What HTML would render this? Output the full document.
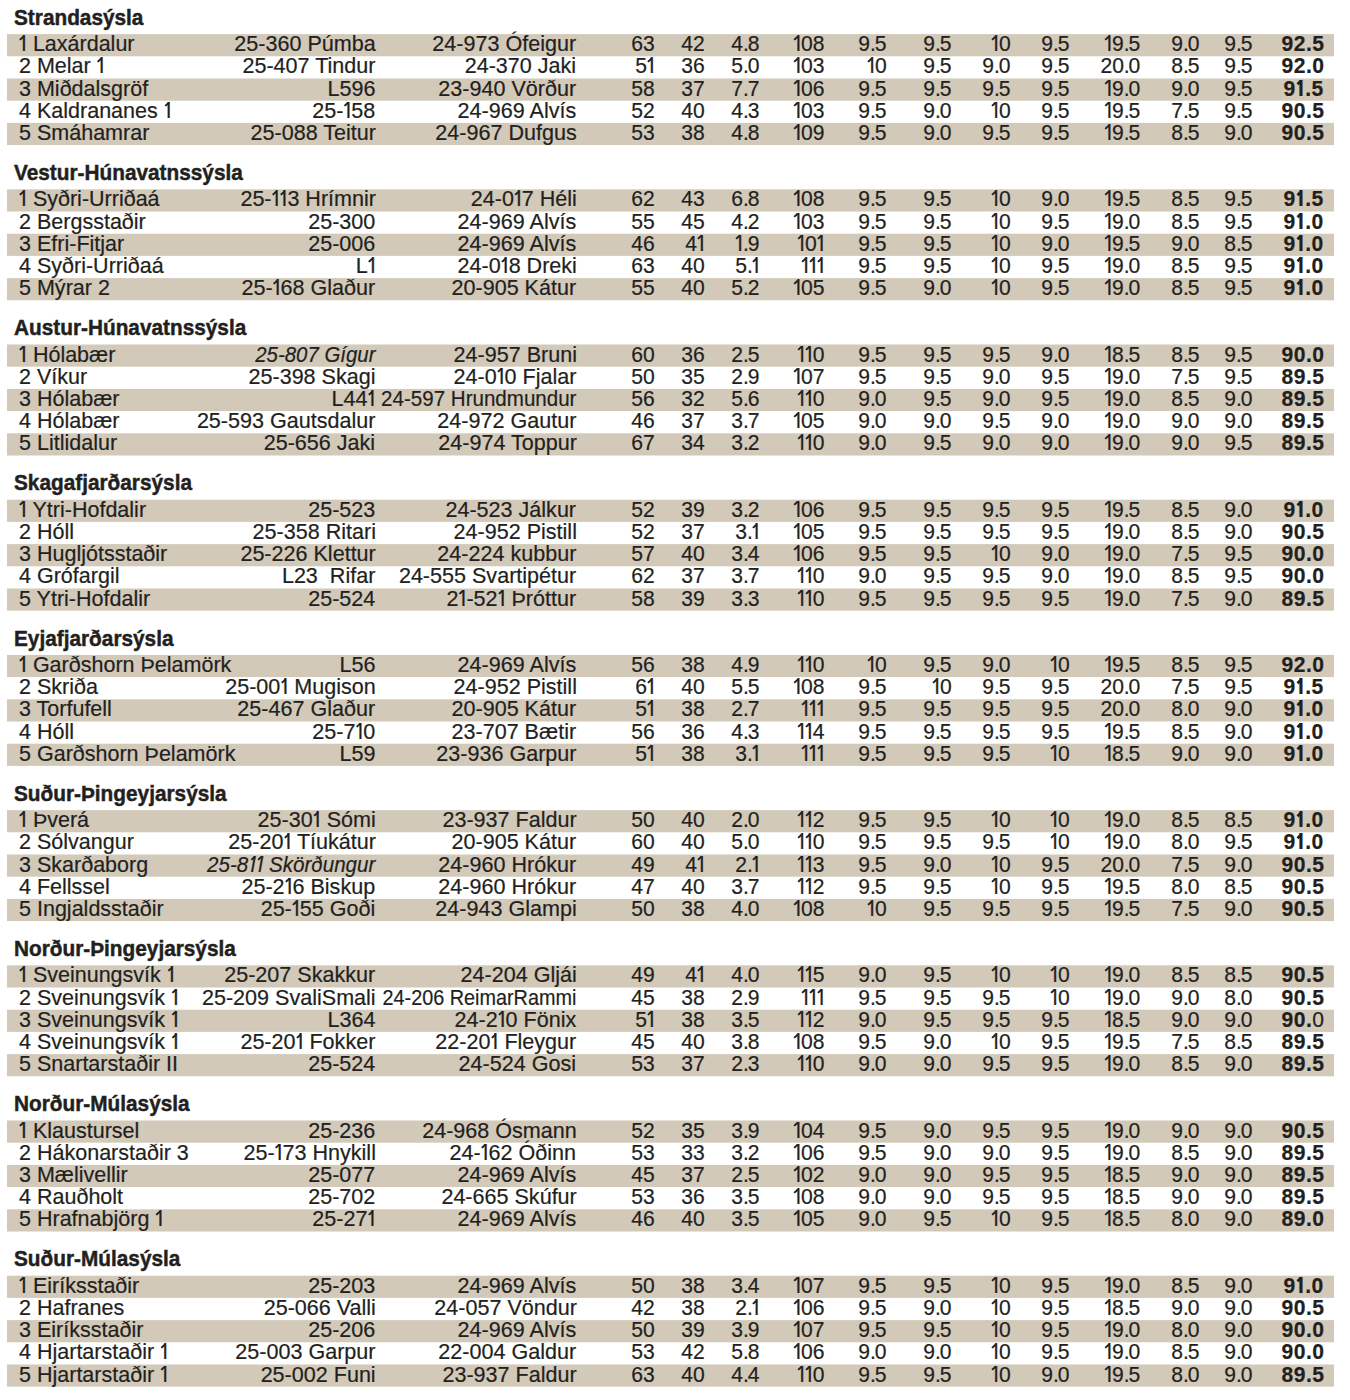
<!DOCTYPE html>
<html><head><meta charset="utf-8"><style>
html,body{margin:0;padding:0;background:#fff;}
body{width:1350px;height:1400px;overflow:hidden;position:relative;font-family:"Liberation Sans",sans-serif;color:#231f20;}
.h{position:absolute;left:14px;font-weight:bold;font-size:21px;line-height:24px;white-space:nowrap;letter-spacing:0px;transform:scale(0.99,1.05);transform-origin:0 20px;-webkit-text-stroke:0.45px #231f20;}
.b{position:absolute;left:7px;width:1327px;}
.s{background:rgb(210,201,185);}
.t{position:absolute;white-space:nowrap;font-size:21.3px;line-height:24px;letter-spacing:0px;transform:scale(0.99,1);transform-origin:0 19px;-webkit-text-stroke:0.2px #231f20;}
.r{text-align:right;transform-origin:100% 19px;}
.k{font-weight:bold;letter-spacing:0.5px;}
.n{font-weight:normal;}
i{font-style:italic;}
.p{letter-spacing:-1.2px;}
.o{position:relative;padding-left:2.6px;letter-spacing:0.5px;}
.o::after{content:"";position:absolute;left:-0.6px;top:3.7px;width:4.7px;height:2.0px;background:currentColor;transform:rotate(-42deg);transform-origin:100% 0;}
.k .o{padding-left:2.4px;letter-spacing:1.4px;}
.k .o::after{height:2.7px;left:-0.8px;top:3.6px;}
i .o::after{left:0.9px;}
</style></head><body>

<svg width="1350" height="1400" style="position:absolute;left:0;top:0" fill="rgb(210,201,185)"><rect x="7" y="34.10" width="1327" height="22.20"/><rect x="7" y="78.50" width="1327" height="22.20"/><rect x="7" y="122.90" width="1327" height="22.20"/><rect x="7" y="189.30" width="1327" height="22.20"/><rect x="7" y="233.70" width="1327" height="22.20"/><rect x="7" y="278.10" width="1327" height="22.20"/><rect x="7" y="344.50" width="1327" height="22.20"/><rect x="7" y="388.90" width="1327" height="22.20"/><rect x="7" y="433.30" width="1327" height="22.20"/><rect x="7" y="499.70" width="1327" height="22.20"/><rect x="7" y="544.10" width="1327" height="22.20"/><rect x="7" y="588.50" width="1327" height="22.20"/><rect x="7" y="654.90" width="1327" height="22.20"/><rect x="7" y="699.30" width="1327" height="22.20"/><rect x="7" y="743.70" width="1327" height="22.20"/><rect x="7" y="810.10" width="1327" height="22.20"/><rect x="7" y="854.50" width="1327" height="22.20"/><rect x="7" y="898.90" width="1327" height="22.20"/><rect x="7" y="965.30" width="1327" height="22.20"/><rect x="7" y="1009.70" width="1327" height="22.20"/><rect x="7" y="1054.10" width="1327" height="22.20"/><rect x="7" y="1120.50" width="1327" height="22.20"/><rect x="7" y="1164.90" width="1327" height="22.20"/><rect x="7" y="1209.30" width="1327" height="22.20"/><rect x="7" y="1275.70" width="1327" height="22.20"/><rect x="7" y="1320.10" width="1327" height="22.20"/><rect x="7" y="1364.50" width="1327" height="22.20"/></svg>
<div class="h" style="top:5.80px">Strandasýsla</div>
<div class="b" style="top:34.10px;height:22.20px">
<div class="t" style="left:12.00px;top:-2.00px;transform:scale(1.01,1)"><span class=o>l</span> Laxárdalur</div>
<div class="t r" style="right:958.50px;top:-2.00px;transform:scale(1.012,1)">25-360 Púmba</div>
<div class="t r" style="right:757.50px;top:-2.00px;transform:scale(1.012,1)">24-973 Ófeigur</div>
<div class="t r" style="right:679.50px;top:-2.00px">63</div>
<div class="t r" style="right:629.70px;top:-2.00px">42</div>
<div class="t r" style="right:574.30px;top:-2.00px">4<span class=p>.</span>8</div>
<div class="t r" style="right:509.40px;top:-2.00px"><span class=o>l</span>08</div>
<div class="t r" style="right:447.20px;top:-2.00px">9<span class=p>.</span>5</div>
<div class="t r" style="right:382.50px;top:-2.00px">9<span class=p>.</span>5</div>
<div class="t r" style="right:323.40px;top:-2.00px"><span class=o>l</span>0</div>
<div class="t r" style="right:264.10px;top:-2.00px">9<span class=p>.</span>5</div>
<div class="t r" style="right:193.60px;top:-2.00px"><span class=o>l</span>9<span class=p>.</span>5</div>
<div class="t r" style="right:134.20px;top:-2.00px">9<span class=p>.</span>0</div>
<div class="t r" style="right:81.30px;top:-2.00px">9<span class=p>.</span>5</div>
<div class="t r k" style="right:9.90px;top:-2.00px">92.5</div>
</div>
<div class="b" style="top:56.30px;height:22.20px">
<div class="t" style="left:12.00px;top:-2.00px;transform:scale(1.01,1)"><span style="letter-spacing:0px">2</span> Melar <span class=o>l</span></div>
<div class="t r" style="right:958.50px;top:-2.00px;transform:scale(1.012,1)">25-407 Tindur</div>
<div class="t r" style="right:757.50px;top:-2.00px;transform:scale(1.012,1)">24-370 Jaki</div>
<div class="t r" style="right:679.50px;top:-2.00px">5<span class=o>l</span></div>
<div class="t r" style="right:629.70px;top:-2.00px">36</div>
<div class="t r" style="right:574.30px;top:-2.00px">5<span class=p>.</span>0</div>
<div class="t r" style="right:509.40px;top:-2.00px"><span class=o>l</span>03</div>
<div class="t r" style="right:447.20px;top:-2.00px"><span class=o>l</span>0</div>
<div class="t r" style="right:382.50px;top:-2.00px">9<span class=p>.</span>5</div>
<div class="t r" style="right:323.40px;top:-2.00px">9<span class=p>.</span>0</div>
<div class="t r" style="right:264.10px;top:-2.00px">9<span class=p>.</span>5</div>
<div class="t r" style="right:193.60px;top:-2.00px">20<span class=p>.</span>0</div>
<div class="t r" style="right:134.20px;top:-2.00px">8<span class=p>.</span>5</div>
<div class="t r" style="right:81.30px;top:-2.00px">9<span class=p>.</span>5</div>
<div class="t r k" style="right:9.90px;top:-2.00px">92.0</div>
</div>
<div class="b" style="top:78.50px;height:22.20px">
<div class="t" style="left:12.00px;top:-2.00px;transform:scale(1.01,1)"><span style="letter-spacing:0px">3</span> Miðdalsgröf</div>
<div class="t r" style="right:958.50px;top:-2.00px;transform:scale(1.012,1)">L596</div>
<div class="t r" style="right:757.50px;top:-2.00px;transform:scale(1.012,1)">23-940 Vörður</div>
<div class="t r" style="right:679.50px;top:-2.00px">58</div>
<div class="t r" style="right:629.70px;top:-2.00px">37</div>
<div class="t r" style="right:574.30px;top:-2.00px">7<span class=p>.</span>7</div>
<div class="t r" style="right:509.40px;top:-2.00px"><span class=o>l</span>06</div>
<div class="t r" style="right:447.20px;top:-2.00px">9<span class=p>.</span>5</div>
<div class="t r" style="right:382.50px;top:-2.00px">9<span class=p>.</span>5</div>
<div class="t r" style="right:323.40px;top:-2.00px">9<span class=p>.</span>5</div>
<div class="t r" style="right:264.10px;top:-2.00px">9<span class=p>.</span>5</div>
<div class="t r" style="right:193.60px;top:-2.00px"><span class=o>l</span>9<span class=p>.</span>0</div>
<div class="t r" style="right:134.20px;top:-2.00px">9<span class=p>.</span>0</div>
<div class="t r" style="right:81.30px;top:-2.00px">9<span class=p>.</span>5</div>
<div class="t r k" style="right:9.90px;top:-2.00px">9<span class=o>l</span>.5</div>
</div>
<div class="b" style="top:100.70px;height:22.20px">
<div class="t" style="left:12.00px;top:-2.00px;transform:scale(1.01,1)"><span style="letter-spacing:0px">4</span> Kaldrananes <span class=o>l</span></div>
<div class="t r" style="right:958.50px;top:-2.00px;transform:scale(1.012,1)">25-<span class=o>l</span>58</div>
<div class="t r" style="right:757.50px;top:-2.00px;transform:scale(1.012,1)">24-969 Alvís</div>
<div class="t r" style="right:679.50px;top:-2.00px">52</div>
<div class="t r" style="right:629.70px;top:-2.00px">40</div>
<div class="t r" style="right:574.30px;top:-2.00px">4<span class=p>.</span>3</div>
<div class="t r" style="right:509.40px;top:-2.00px"><span class=o>l</span>03</div>
<div class="t r" style="right:447.20px;top:-2.00px">9<span class=p>.</span>5</div>
<div class="t r" style="right:382.50px;top:-2.00px">9<span class=p>.</span>0</div>
<div class="t r" style="right:323.40px;top:-2.00px"><span class=o>l</span>0</div>
<div class="t r" style="right:264.10px;top:-2.00px">9<span class=p>.</span>5</div>
<div class="t r" style="right:193.60px;top:-2.00px"><span class=o>l</span>9<span class=p>.</span>5</div>
<div class="t r" style="right:134.20px;top:-2.00px">7<span class=p>.</span>5</div>
<div class="t r" style="right:81.30px;top:-2.00px">9<span class=p>.</span>5</div>
<div class="t r k" style="right:9.90px;top:-2.00px">90.5</div>
</div>
<div class="b" style="top:122.90px;height:22.20px">
<div class="t" style="left:12.00px;top:-2.00px;transform:scale(1.01,1)"><span style="letter-spacing:0px">5</span> Smáhamrar</div>
<div class="t r" style="right:958.50px;top:-2.00px;transform:scale(1.012,1)">25-088 Teitur</div>
<div class="t r" style="right:757.50px;top:-2.00px;transform:scale(1.012,1)">24-967 Dufgus</div>
<div class="t r" style="right:679.50px;top:-2.00px">53</div>
<div class="t r" style="right:629.70px;top:-2.00px">38</div>
<div class="t r" style="right:574.30px;top:-2.00px">4<span class=p>.</span>8</div>
<div class="t r" style="right:509.40px;top:-2.00px"><span class=o>l</span>09</div>
<div class="t r" style="right:447.20px;top:-2.00px">9<span class=p>.</span>5</div>
<div class="t r" style="right:382.50px;top:-2.00px">9<span class=p>.</span>0</div>
<div class="t r" style="right:323.40px;top:-2.00px">9<span class=p>.</span>5</div>
<div class="t r" style="right:264.10px;top:-2.00px">9<span class=p>.</span>5</div>
<div class="t r" style="right:193.60px;top:-2.00px"><span class=o>l</span>9<span class=p>.</span>5</div>
<div class="t r" style="right:134.20px;top:-2.00px">8<span class=p>.</span>5</div>
<div class="t r" style="right:81.30px;top:-2.00px">9<span class=p>.</span>0</div>
<div class="t r k" style="right:9.90px;top:-2.00px">90.5</div>
</div>
<div class="h" style="top:161.00px">Vestur-Húnavatnssýsla</div>
<div class="b" style="top:189.30px;height:22.20px">
<div class="t" style="left:12.00px;top:-2.00px;transform:scale(1.01,1)"><span class=o>l</span> Syðri-Urriðaá</div>
<div class="t r" style="right:958.50px;top:-2.00px;transform:scale(1.012,1)">25-<span class=o>l</span><span class=o>l</span>3 Hrímnir</div>
<div class="t r" style="right:757.50px;top:-2.00px;transform:scale(1.012,1)">24-0<span class=o>l</span>7 Héli</div>
<div class="t r" style="right:679.50px;top:-2.00px">62</div>
<div class="t r" style="right:629.70px;top:-2.00px">43</div>
<div class="t r" style="right:574.30px;top:-2.00px">6<span class=p>.</span>8</div>
<div class="t r" style="right:509.40px;top:-2.00px"><span class=o>l</span>08</div>
<div class="t r" style="right:447.20px;top:-2.00px">9<span class=p>.</span>5</div>
<div class="t r" style="right:382.50px;top:-2.00px">9<span class=p>.</span>5</div>
<div class="t r" style="right:323.40px;top:-2.00px"><span class=o>l</span>0</div>
<div class="t r" style="right:264.10px;top:-2.00px">9<span class=p>.</span>0</div>
<div class="t r" style="right:193.60px;top:-2.00px"><span class=o>l</span>9<span class=p>.</span>5</div>
<div class="t r" style="right:134.20px;top:-2.00px">8<span class=p>.</span>5</div>
<div class="t r" style="right:81.30px;top:-2.00px">9<span class=p>.</span>5</div>
<div class="t r k" style="right:9.90px;top:-2.00px">9<span class=o>l</span>.5</div>
</div>
<div class="b" style="top:211.50px;height:22.20px">
<div class="t" style="left:12.00px;top:-2.00px;transform:scale(1.01,1)"><span style="letter-spacing:0px">2</span> Bergsstaðir</div>
<div class="t r" style="right:958.50px;top:-2.00px;transform:scale(1.012,1)">25-300</div>
<div class="t r" style="right:757.50px;top:-2.00px;transform:scale(1.012,1)">24-969 Alvís</div>
<div class="t r" style="right:679.50px;top:-2.00px">55</div>
<div class="t r" style="right:629.70px;top:-2.00px">45</div>
<div class="t r" style="right:574.30px;top:-2.00px">4<span class=p>.</span>2</div>
<div class="t r" style="right:509.40px;top:-2.00px"><span class=o>l</span>03</div>
<div class="t r" style="right:447.20px;top:-2.00px">9<span class=p>.</span>5</div>
<div class="t r" style="right:382.50px;top:-2.00px">9<span class=p>.</span>5</div>
<div class="t r" style="right:323.40px;top:-2.00px"><span class=o>l</span>0</div>
<div class="t r" style="right:264.10px;top:-2.00px">9<span class=p>.</span>5</div>
<div class="t r" style="right:193.60px;top:-2.00px"><span class=o>l</span>9<span class=p>.</span>0</div>
<div class="t r" style="right:134.20px;top:-2.00px">8<span class=p>.</span>5</div>
<div class="t r" style="right:81.30px;top:-2.00px">9<span class=p>.</span>5</div>
<div class="t r k" style="right:9.90px;top:-2.00px">9<span class=o>l</span>.0</div>
</div>
<div class="b" style="top:233.70px;height:22.20px">
<div class="t" style="left:12.00px;top:-2.00px;transform:scale(1.01,1)"><span style="letter-spacing:0px">3</span> Efri-Fitjar</div>
<div class="t r" style="right:958.50px;top:-2.00px;transform:scale(1.012,1)">25-006</div>
<div class="t r" style="right:757.50px;top:-2.00px;transform:scale(1.012,1)">24-969 Alvís</div>
<div class="t r" style="right:679.50px;top:-2.00px">46</div>
<div class="t r" style="right:629.70px;top:-2.00px">4<span class=o>l</span></div>
<div class="t r" style="right:574.30px;top:-2.00px"><span class=o>l</span><span class=p>.</span>9</div>
<div class="t r" style="right:509.40px;top:-2.00px"><span class=o>l</span>0<span class=o>l</span></div>
<div class="t r" style="right:447.20px;top:-2.00px">9<span class=p>.</span>5</div>
<div class="t r" style="right:382.50px;top:-2.00px">9<span class=p>.</span>5</div>
<div class="t r" style="right:323.40px;top:-2.00px"><span class=o>l</span>0</div>
<div class="t r" style="right:264.10px;top:-2.00px">9<span class=p>.</span>0</div>
<div class="t r" style="right:193.60px;top:-2.00px"><span class=o>l</span>9<span class=p>.</span>5</div>
<div class="t r" style="right:134.20px;top:-2.00px">9<span class=p>.</span>0</div>
<div class="t r" style="right:81.30px;top:-2.00px">8<span class=p>.</span>5</div>
<div class="t r k" style="right:9.90px;top:-2.00px">9<span class=o>l</span>.0</div>
</div>
<div class="b" style="top:255.90px;height:22.20px">
<div class="t" style="left:12.00px;top:-2.00px;transform:scale(1.01,1)"><span style="letter-spacing:0px">4</span> Syðri-Urriðaá</div>
<div class="t r" style="right:958.50px;top:-2.00px;transform:scale(1.012,1)">L<span class=o>l</span></div>
<div class="t r" style="right:757.50px;top:-2.00px;transform:scale(1.012,1)">24-0<span class=o>l</span>8 Dreki</div>
<div class="t r" style="right:679.50px;top:-2.00px">63</div>
<div class="t r" style="right:629.70px;top:-2.00px">40</div>
<div class="t r" style="right:574.30px;top:-2.00px">5<span class=p>.</span><span class=o>l</span></div>
<div class="t r" style="right:509.40px;top:-2.00px"><span class=o>l</span><span class=o>l</span><span class=o>l</span></div>
<div class="t r" style="right:447.20px;top:-2.00px">9<span class=p>.</span>5</div>
<div class="t r" style="right:382.50px;top:-2.00px">9<span class=p>.</span>5</div>
<div class="t r" style="right:323.40px;top:-2.00px"><span class=o>l</span>0</div>
<div class="t r" style="right:264.10px;top:-2.00px">9<span class=p>.</span>5</div>
<div class="t r" style="right:193.60px;top:-2.00px"><span class=o>l</span>9<span class=p>.</span>0</div>
<div class="t r" style="right:134.20px;top:-2.00px">8<span class=p>.</span>5</div>
<div class="t r" style="right:81.30px;top:-2.00px">9<span class=p>.</span>5</div>
<div class="t r k" style="right:9.90px;top:-2.00px">9<span class=o>l</span>.0</div>
</div>
<div class="b" style="top:278.10px;height:22.20px">
<div class="t" style="left:12.00px;top:-2.00px;transform:scale(1.01,1)"><span style="letter-spacing:0px">5</span> Mýrar 2</div>
<div class="t r" style="right:958.50px;top:-2.00px;transform:scale(1.012,1)">25-<span class=o>l</span>68 Glaður</div>
<div class="t r" style="right:757.50px;top:-2.00px;transform:scale(1.012,1)">20-905 Kátur</div>
<div class="t r" style="right:679.50px;top:-2.00px">55</div>
<div class="t r" style="right:629.70px;top:-2.00px">40</div>
<div class="t r" style="right:574.30px;top:-2.00px">5<span class=p>.</span>2</div>
<div class="t r" style="right:509.40px;top:-2.00px"><span class=o>l</span>05</div>
<div class="t r" style="right:447.20px;top:-2.00px">9<span class=p>.</span>5</div>
<div class="t r" style="right:382.50px;top:-2.00px">9<span class=p>.</span>0</div>
<div class="t r" style="right:323.40px;top:-2.00px"><span class=o>l</span>0</div>
<div class="t r" style="right:264.10px;top:-2.00px">9<span class=p>.</span>5</div>
<div class="t r" style="right:193.60px;top:-2.00px"><span class=o>l</span>9<span class=p>.</span>0</div>
<div class="t r" style="right:134.20px;top:-2.00px">8<span class=p>.</span>5</div>
<div class="t r" style="right:81.30px;top:-2.00px">9<span class=p>.</span>5</div>
<div class="t r k" style="right:9.90px;top:-2.00px">9<span class=o>l</span>.0</div>
</div>
<div class="h" style="top:316.20px">Austur-Húnavatnssýsla</div>
<div class="b" style="top:344.50px;height:22.20px">
<div class="t" style="left:12.00px;top:-2.00px;transform:scale(1.01,1)"><span class=o>l</span> Hólabær</div>
<div class="t r" style="right:958.50px;top:-2.00px;transform:scale(0.958,1)"><i>25-807 Gígur</i></div>
<div class="t r" style="right:757.50px;top:-2.00px;transform:scale(1.012,1)">24-957 Bruni</div>
<div class="t r" style="right:679.50px;top:-2.00px">60</div>
<div class="t r" style="right:629.70px;top:-2.00px">36</div>
<div class="t r" style="right:574.30px;top:-2.00px">2<span class=p>.</span>5</div>
<div class="t r" style="right:509.40px;top:-2.00px"><span class=o>l</span><span class=o>l</span>0</div>
<div class="t r" style="right:447.20px;top:-2.00px">9<span class=p>.</span>5</div>
<div class="t r" style="right:382.50px;top:-2.00px">9<span class=p>.</span>5</div>
<div class="t r" style="right:323.40px;top:-2.00px">9<span class=p>.</span>5</div>
<div class="t r" style="right:264.10px;top:-2.00px">9<span class=p>.</span>0</div>
<div class="t r" style="right:193.60px;top:-2.00px"><span class=o>l</span>8<span class=p>.</span>5</div>
<div class="t r" style="right:134.20px;top:-2.00px">8<span class=p>.</span>5</div>
<div class="t r" style="right:81.30px;top:-2.00px">9<span class=p>.</span>5</div>
<div class="t r k" style="right:9.90px;top:-2.00px">90.0</div>
</div>
<div class="b" style="top:366.70px;height:22.20px">
<div class="t" style="left:12.00px;top:-2.00px;transform:scale(1.01,1)"><span style="letter-spacing:0px">2</span> Víkur</div>
<div class="t r" style="right:958.50px;top:-2.00px;transform:scale(1.012,1)">25-398 Skagi</div>
<div class="t r" style="right:757.50px;top:-2.00px;transform:scale(1.012,1)">24-0<span class=o>l</span>0 Fjalar</div>
<div class="t r" style="right:679.50px;top:-2.00px">50</div>
<div class="t r" style="right:629.70px;top:-2.00px">35</div>
<div class="t r" style="right:574.30px;top:-2.00px">2<span class=p>.</span>9</div>
<div class="t r" style="right:509.40px;top:-2.00px"><span class=o>l</span>07</div>
<div class="t r" style="right:447.20px;top:-2.00px">9<span class=p>.</span>5</div>
<div class="t r" style="right:382.50px;top:-2.00px">9<span class=p>.</span>5</div>
<div class="t r" style="right:323.40px;top:-2.00px">9<span class=p>.</span>0</div>
<div class="t r" style="right:264.10px;top:-2.00px">9<span class=p>.</span>5</div>
<div class="t r" style="right:193.60px;top:-2.00px"><span class=o>l</span>9<span class=p>.</span>0</div>
<div class="t r" style="right:134.20px;top:-2.00px">7<span class=p>.</span>5</div>
<div class="t r" style="right:81.30px;top:-2.00px">9<span class=p>.</span>5</div>
<div class="t r k" style="right:9.90px;top:-2.00px">89.5</div>
</div>
<div class="b" style="top:388.90px;height:22.20px">
<div class="t" style="left:12.00px;top:-2.00px;transform:scale(1.01,1)"><span style="letter-spacing:0px">3</span> Hólabær</div>
<div class="t r" style="right:958.50px;top:-2.00px;transform:scale(1.012,1)">L44<span class=o>l</span></div>
<div class="t r" style="right:757.50px;top:-2.00px;transform:scale(0.965,1)">24-597 Hrundmundur</div>
<div class="t r" style="right:679.50px;top:-2.00px">56</div>
<div class="t r" style="right:629.70px;top:-2.00px">32</div>
<div class="t r" style="right:574.30px;top:-2.00px">5<span class=p>.</span>6</div>
<div class="t r" style="right:509.40px;top:-2.00px"><span class=o>l</span><span class=o>l</span>0</div>
<div class="t r" style="right:447.20px;top:-2.00px">9<span class=p>.</span>0</div>
<div class="t r" style="right:382.50px;top:-2.00px">9<span class=p>.</span>5</div>
<div class="t r" style="right:323.40px;top:-2.00px">9<span class=p>.</span>0</div>
<div class="t r" style="right:264.10px;top:-2.00px">9<span class=p>.</span>5</div>
<div class="t r" style="right:193.60px;top:-2.00px"><span class=o>l</span>9<span class=p>.</span>0</div>
<div class="t r" style="right:134.20px;top:-2.00px">8<span class=p>.</span>5</div>
<div class="t r" style="right:81.30px;top:-2.00px">9<span class=p>.</span>0</div>
<div class="t r k" style="right:9.90px;top:-2.00px">89.5</div>
</div>
<div class="b" style="top:411.10px;height:22.20px">
<div class="t" style="left:12.00px;top:-2.00px;transform:scale(1.01,1)"><span style="letter-spacing:0px">4</span> Hólabær</div>
<div class="t r" style="right:958.50px;top:-2.00px;transform:scale(1.012,1)">25-593 Gautsdalur</div>
<div class="t r" style="right:757.50px;top:-2.00px;transform:scale(1.012,1)">24-972 Gautur</div>
<div class="t r" style="right:679.50px;top:-2.00px">46</div>
<div class="t r" style="right:629.70px;top:-2.00px">37</div>
<div class="t r" style="right:574.30px;top:-2.00px">3<span class=p>.</span>7</div>
<div class="t r" style="right:509.40px;top:-2.00px"><span class=o>l</span>05</div>
<div class="t r" style="right:447.20px;top:-2.00px">9<span class=p>.</span>0</div>
<div class="t r" style="right:382.50px;top:-2.00px">9<span class=p>.</span>0</div>
<div class="t r" style="right:323.40px;top:-2.00px">9<span class=p>.</span>5</div>
<div class="t r" style="right:264.10px;top:-2.00px">9<span class=p>.</span>0</div>
<div class="t r" style="right:193.60px;top:-2.00px"><span class=o>l</span>9<span class=p>.</span>0</div>
<div class="t r" style="right:134.20px;top:-2.00px">9<span class=p>.</span>0</div>
<div class="t r" style="right:81.30px;top:-2.00px">9<span class=p>.</span>0</div>
<div class="t r k" style="right:9.90px;top:-2.00px">89.5</div>
</div>
<div class="b" style="top:433.30px;height:22.20px">
<div class="t" style="left:12.00px;top:-2.00px;transform:scale(1.01,1)"><span style="letter-spacing:0px">5</span> Litlidalur</div>
<div class="t r" style="right:958.50px;top:-2.00px;transform:scale(1.012,1)">25-656 Jaki</div>
<div class="t r" style="right:757.50px;top:-2.00px;transform:scale(1.012,1)">24-974 Toppur</div>
<div class="t r" style="right:679.50px;top:-2.00px">67</div>
<div class="t r" style="right:629.70px;top:-2.00px">34</div>
<div class="t r" style="right:574.30px;top:-2.00px">3<span class=p>.</span>2</div>
<div class="t r" style="right:509.40px;top:-2.00px"><span class=o>l</span><span class=o>l</span>0</div>
<div class="t r" style="right:447.20px;top:-2.00px">9<span class=p>.</span>0</div>
<div class="t r" style="right:382.50px;top:-2.00px">9<span class=p>.</span>5</div>
<div class="t r" style="right:323.40px;top:-2.00px">9<span class=p>.</span>0</div>
<div class="t r" style="right:264.10px;top:-2.00px">9<span class=p>.</span>0</div>
<div class="t r" style="right:193.60px;top:-2.00px"><span class=o>l</span>9<span class=p>.</span>0</div>
<div class="t r" style="right:134.20px;top:-2.00px">9<span class=p>.</span>0</div>
<div class="t r" style="right:81.30px;top:-2.00px">9<span class=p>.</span>5</div>
<div class="t r k" style="right:9.90px;top:-2.00px">89.5</div>
</div>
<div class="h" style="top:471.40px">Skagafjarðarsýsla</div>
<div class="b" style="top:499.70px;height:22.20px">
<div class="t" style="left:12.00px;top:-2.00px;transform:scale(1.01,1)"><span class=o>l</span> Ytri-Hofdalir</div>
<div class="t r" style="right:958.50px;top:-2.00px;transform:scale(1.012,1)">25-523</div>
<div class="t r" style="right:757.50px;top:-2.00px;transform:scale(1.012,1)">24-523 Jálkur</div>
<div class="t r" style="right:679.50px;top:-2.00px">52</div>
<div class="t r" style="right:629.70px;top:-2.00px">39</div>
<div class="t r" style="right:574.30px;top:-2.00px">3<span class=p>.</span>2</div>
<div class="t r" style="right:509.40px;top:-2.00px"><span class=o>l</span>06</div>
<div class="t r" style="right:447.20px;top:-2.00px">9<span class=p>.</span>5</div>
<div class="t r" style="right:382.50px;top:-2.00px">9<span class=p>.</span>5</div>
<div class="t r" style="right:323.40px;top:-2.00px">9<span class=p>.</span>5</div>
<div class="t r" style="right:264.10px;top:-2.00px">9<span class=p>.</span>5</div>
<div class="t r" style="right:193.60px;top:-2.00px"><span class=o>l</span>9<span class=p>.</span>5</div>
<div class="t r" style="right:134.20px;top:-2.00px">8<span class=p>.</span>5</div>
<div class="t r" style="right:81.30px;top:-2.00px">9<span class=p>.</span>0</div>
<div class="t r k" style="right:9.90px;top:-2.00px">9<span class=o>l</span>.0</div>
</div>
<div class="b" style="top:521.90px;height:22.20px">
<div class="t" style="left:12.00px;top:-2.00px;transform:scale(1.01,1)"><span style="letter-spacing:0px">2</span> Hóll</div>
<div class="t r" style="right:958.50px;top:-2.00px;transform:scale(1.012,1)">25-358 Ritari</div>
<div class="t r" style="right:757.50px;top:-2.00px;transform:scale(1.012,1)">24-952 Pistill</div>
<div class="t r" style="right:679.50px;top:-2.00px">52</div>
<div class="t r" style="right:629.70px;top:-2.00px">37</div>
<div class="t r" style="right:574.30px;top:-2.00px">3<span class=p>.</span><span class=o>l</span></div>
<div class="t r" style="right:509.40px;top:-2.00px"><span class=o>l</span>05</div>
<div class="t r" style="right:447.20px;top:-2.00px">9<span class=p>.</span>5</div>
<div class="t r" style="right:382.50px;top:-2.00px">9<span class=p>.</span>5</div>
<div class="t r" style="right:323.40px;top:-2.00px">9<span class=p>.</span>5</div>
<div class="t r" style="right:264.10px;top:-2.00px">9<span class=p>.</span>5</div>
<div class="t r" style="right:193.60px;top:-2.00px"><span class=o>l</span>9<span class=p>.</span>0</div>
<div class="t r" style="right:134.20px;top:-2.00px">8<span class=p>.</span>5</div>
<div class="t r" style="right:81.30px;top:-2.00px">9<span class=p>.</span>0</div>
<div class="t r k" style="right:9.90px;top:-2.00px">90.5</div>
</div>
<div class="b" style="top:544.10px;height:22.20px">
<div class="t" style="left:12.00px;top:-2.00px;transform:scale(1.01,1)"><span style="letter-spacing:0px">3</span> Hugljótsstaðir</div>
<div class="t r" style="right:958.50px;top:-2.00px;transform:scale(1.012,1)">25-226 Klettur</div>
<div class="t r" style="right:757.50px;top:-2.00px;transform:scale(1.012,1)">24-224 kubbur</div>
<div class="t r" style="right:679.50px;top:-2.00px">57</div>
<div class="t r" style="right:629.70px;top:-2.00px">40</div>
<div class="t r" style="right:574.30px;top:-2.00px">3<span class=p>.</span>4</div>
<div class="t r" style="right:509.40px;top:-2.00px"><span class=o>l</span>06</div>
<div class="t r" style="right:447.20px;top:-2.00px">9<span class=p>.</span>5</div>
<div class="t r" style="right:382.50px;top:-2.00px">9<span class=p>.</span>5</div>
<div class="t r" style="right:323.40px;top:-2.00px"><span class=o>l</span>0</div>
<div class="t r" style="right:264.10px;top:-2.00px">9<span class=p>.</span>0</div>
<div class="t r" style="right:193.60px;top:-2.00px"><span class=o>l</span>9<span class=p>.</span>0</div>
<div class="t r" style="right:134.20px;top:-2.00px">7<span class=p>.</span>5</div>
<div class="t r" style="right:81.30px;top:-2.00px">9<span class=p>.</span>5</div>
<div class="t r k" style="right:9.90px;top:-2.00px">90.0</div>
</div>
<div class="b" style="top:566.30px;height:22.20px">
<div class="t" style="left:12.00px;top:-2.00px;transform:scale(1.01,1)"><span style="letter-spacing:0px">4</span> Grófargil</div>
<div class="t r" style="right:958.50px;top:-2.00px;transform:scale(1.012,1)">L23&nbsp; Rifar</div>
<div class="t r" style="right:757.50px;top:-2.00px;transform:scale(1.012,1)">24-555 Svartipétur</div>
<div class="t r" style="right:679.50px;top:-2.00px">62</div>
<div class="t r" style="right:629.70px;top:-2.00px">37</div>
<div class="t r" style="right:574.30px;top:-2.00px">3<span class=p>.</span>7</div>
<div class="t r" style="right:509.40px;top:-2.00px"><span class=o>l</span><span class=o>l</span>0</div>
<div class="t r" style="right:447.20px;top:-2.00px">9<span class=p>.</span>0</div>
<div class="t r" style="right:382.50px;top:-2.00px">9<span class=p>.</span>5</div>
<div class="t r" style="right:323.40px;top:-2.00px">9<span class=p>.</span>5</div>
<div class="t r" style="right:264.10px;top:-2.00px">9<span class=p>.</span>0</div>
<div class="t r" style="right:193.60px;top:-2.00px"><span class=o>l</span>9<span class=p>.</span>0</div>
<div class="t r" style="right:134.20px;top:-2.00px">8<span class=p>.</span>5</div>
<div class="t r" style="right:81.30px;top:-2.00px">9<span class=p>.</span>5</div>
<div class="t r k" style="right:9.90px;top:-2.00px">90.0</div>
</div>
<div class="b" style="top:588.50px;height:22.20px">
<div class="t" style="left:12.00px;top:-2.00px;transform:scale(1.01,1)"><span style="letter-spacing:0px">5</span> Ytri-Hofdalir</div>
<div class="t r" style="right:958.50px;top:-2.00px;transform:scale(1.012,1)">25-524</div>
<div class="t r" style="right:757.50px;top:-2.00px;transform:scale(1.012,1)">2<span class=o>l</span>-52<span class=o>l</span> Þróttur</div>
<div class="t r" style="right:679.50px;top:-2.00px">58</div>
<div class="t r" style="right:629.70px;top:-2.00px">39</div>
<div class="t r" style="right:574.30px;top:-2.00px">3<span class=p>.</span>3</div>
<div class="t r" style="right:509.40px;top:-2.00px"><span class=o>l</span><span class=o>l</span>0</div>
<div class="t r" style="right:447.20px;top:-2.00px">9<span class=p>.</span>5</div>
<div class="t r" style="right:382.50px;top:-2.00px">9<span class=p>.</span>5</div>
<div class="t r" style="right:323.40px;top:-2.00px">9<span class=p>.</span>5</div>
<div class="t r" style="right:264.10px;top:-2.00px">9<span class=p>.</span>5</div>
<div class="t r" style="right:193.60px;top:-2.00px"><span class=o>l</span>9<span class=p>.</span>0</div>
<div class="t r" style="right:134.20px;top:-2.00px">7<span class=p>.</span>5</div>
<div class="t r" style="right:81.30px;top:-2.00px">9<span class=p>.</span>0</div>
<div class="t r k" style="right:9.90px;top:-2.00px">89.5</div>
</div>
<div class="h" style="top:626.60px">Eyjafjarðarsýsla</div>
<div class="b" style="top:654.90px;height:22.20px">
<div class="t" style="left:12.00px;top:-2.00px;transform:scale(1.01,1)"><span class=o>l</span> Garðshorn Þelamörk</div>
<div class="t r" style="right:958.50px;top:-2.00px;transform:scale(1.012,1)">L56</div>
<div class="t r" style="right:757.50px;top:-2.00px;transform:scale(1.012,1)">24-969 Alvís</div>
<div class="t r" style="right:679.50px;top:-2.00px">56</div>
<div class="t r" style="right:629.70px;top:-2.00px">38</div>
<div class="t r" style="right:574.30px;top:-2.00px">4<span class=p>.</span>9</div>
<div class="t r" style="right:509.40px;top:-2.00px"><span class=o>l</span><span class=o>l</span>0</div>
<div class="t r" style="right:447.20px;top:-2.00px"><span class=o>l</span>0</div>
<div class="t r" style="right:382.50px;top:-2.00px">9<span class=p>.</span>5</div>
<div class="t r" style="right:323.40px;top:-2.00px">9<span class=p>.</span>0</div>
<div class="t r" style="right:264.10px;top:-2.00px"><span class=o>l</span>0</div>
<div class="t r" style="right:193.60px;top:-2.00px"><span class=o>l</span>9<span class=p>.</span>5</div>
<div class="t r" style="right:134.20px;top:-2.00px">8<span class=p>.</span>5</div>
<div class="t r" style="right:81.30px;top:-2.00px">9<span class=p>.</span>5</div>
<div class="t r k" style="right:9.90px;top:-2.00px">92.0</div>
</div>
<div class="b" style="top:677.10px;height:22.20px">
<div class="t" style="left:12.00px;top:-2.00px;transform:scale(1.01,1)"><span style="letter-spacing:0px">2</span> Skriða</div>
<div class="t r" style="right:958.50px;top:-2.00px;transform:scale(1.012,1)">25-00<span class=o>l</span> Mugison</div>
<div class="t r" style="right:757.50px;top:-2.00px;transform:scale(1.012,1)">24-952 Pistill</div>
<div class="t r" style="right:679.50px;top:-2.00px">6<span class=o>l</span></div>
<div class="t r" style="right:629.70px;top:-2.00px">40</div>
<div class="t r" style="right:574.30px;top:-2.00px">5<span class=p>.</span>5</div>
<div class="t r" style="right:509.40px;top:-2.00px"><span class=o>l</span>08</div>
<div class="t r" style="right:447.20px;top:-2.00px">9<span class=p>.</span>5</div>
<div class="t r" style="right:382.50px;top:-2.00px"><span class=o>l</span>0</div>
<div class="t r" style="right:323.40px;top:-2.00px">9<span class=p>.</span>5</div>
<div class="t r" style="right:264.10px;top:-2.00px">9<span class=p>.</span>5</div>
<div class="t r" style="right:193.60px;top:-2.00px">20<span class=p>.</span>0</div>
<div class="t r" style="right:134.20px;top:-2.00px">7<span class=p>.</span>5</div>
<div class="t r" style="right:81.30px;top:-2.00px">9<span class=p>.</span>5</div>
<div class="t r k" style="right:9.90px;top:-2.00px">9<span class=o>l</span>.5</div>
</div>
<div class="b" style="top:699.30px;height:22.20px">
<div class="t" style="left:12.00px;top:-2.00px;transform:scale(1.01,1)"><span style="letter-spacing:0px">3</span> Torfufell</div>
<div class="t r" style="right:958.50px;top:-2.00px;transform:scale(1.012,1)">25-467 Glaður</div>
<div class="t r" style="right:757.50px;top:-2.00px;transform:scale(1.012,1)">20-905 Kátur</div>
<div class="t r" style="right:679.50px;top:-2.00px">5<span class=o>l</span></div>
<div class="t r" style="right:629.70px;top:-2.00px">38</div>
<div class="t r" style="right:574.30px;top:-2.00px">2<span class=p>.</span>7</div>
<div class="t r" style="right:509.40px;top:-2.00px"><span class=o>l</span><span class=o>l</span><span class=o>l</span></div>
<div class="t r" style="right:447.20px;top:-2.00px">9<span class=p>.</span>5</div>
<div class="t r" style="right:382.50px;top:-2.00px">9<span class=p>.</span>5</div>
<div class="t r" style="right:323.40px;top:-2.00px">9<span class=p>.</span>5</div>
<div class="t r" style="right:264.10px;top:-2.00px">9<span class=p>.</span>5</div>
<div class="t r" style="right:193.60px;top:-2.00px">20<span class=p>.</span>0</div>
<div class="t r" style="right:134.20px;top:-2.00px">8<span class=p>.</span>0</div>
<div class="t r" style="right:81.30px;top:-2.00px">9<span class=p>.</span>0</div>
<div class="t r k" style="right:9.90px;top:-2.00px">9<span class=o>l</span>.0</div>
</div>
<div class="b" style="top:721.50px;height:22.20px">
<div class="t" style="left:12.00px;top:-2.00px;transform:scale(1.01,1)"><span style="letter-spacing:0px">4</span> Hóll</div>
<div class="t r" style="right:958.50px;top:-2.00px;transform:scale(1.012,1)">25-7<span class=o>l</span>0</div>
<div class="t r" style="right:757.50px;top:-2.00px;transform:scale(1.012,1)">23-707 Bætir</div>
<div class="t r" style="right:679.50px;top:-2.00px">56</div>
<div class="t r" style="right:629.70px;top:-2.00px">36</div>
<div class="t r" style="right:574.30px;top:-2.00px">4<span class=p>.</span>3</div>
<div class="t r" style="right:509.40px;top:-2.00px"><span class=o>l</span><span class=o>l</span>4</div>
<div class="t r" style="right:447.20px;top:-2.00px">9<span class=p>.</span>5</div>
<div class="t r" style="right:382.50px;top:-2.00px">9<span class=p>.</span>5</div>
<div class="t r" style="right:323.40px;top:-2.00px">9<span class=p>.</span>5</div>
<div class="t r" style="right:264.10px;top:-2.00px">9<span class=p>.</span>5</div>
<div class="t r" style="right:193.60px;top:-2.00px"><span class=o>l</span>9<span class=p>.</span>5</div>
<div class="t r" style="right:134.20px;top:-2.00px">8<span class=p>.</span>5</div>
<div class="t r" style="right:81.30px;top:-2.00px">9<span class=p>.</span>0</div>
<div class="t r k" style="right:9.90px;top:-2.00px">9<span class=o>l</span>.0</div>
</div>
<div class="b" style="top:743.70px;height:22.20px">
<div class="t" style="left:12.00px;top:-2.00px;transform:scale(1.01,1)"><span style="letter-spacing:0px">5</span> Garðshorn Þelamörk</div>
<div class="t r" style="right:958.50px;top:-2.00px;transform:scale(1.012,1)">L59</div>
<div class="t r" style="right:757.50px;top:-2.00px;transform:scale(1.012,1)">23-936 Garpur</div>
<div class="t r" style="right:679.50px;top:-2.00px">5<span class=o>l</span></div>
<div class="t r" style="right:629.70px;top:-2.00px">38</div>
<div class="t r" style="right:574.30px;top:-2.00px">3<span class=p>.</span><span class=o>l</span></div>
<div class="t r" style="right:509.40px;top:-2.00px"><span class=o>l</span><span class=o>l</span><span class=o>l</span></div>
<div class="t r" style="right:447.20px;top:-2.00px">9<span class=p>.</span>5</div>
<div class="t r" style="right:382.50px;top:-2.00px">9<span class=p>.</span>5</div>
<div class="t r" style="right:323.40px;top:-2.00px">9<span class=p>.</span>5</div>
<div class="t r" style="right:264.10px;top:-2.00px"><span class=o>l</span>0</div>
<div class="t r" style="right:193.60px;top:-2.00px"><span class=o>l</span>8<span class=p>.</span>5</div>
<div class="t r" style="right:134.20px;top:-2.00px">9<span class=p>.</span>0</div>
<div class="t r" style="right:81.30px;top:-2.00px">9<span class=p>.</span>0</div>
<div class="t r k" style="right:9.90px;top:-2.00px">9<span class=o>l</span>.0</div>
</div>
<div class="h" style="top:781.80px">Suður-Þingeyjarsýsla</div>
<div class="b" style="top:810.10px;height:22.20px">
<div class="t" style="left:12.00px;top:-2.00px;transform:scale(1.01,1)"><span class=o>l</span> Þverá</div>
<div class="t r" style="right:958.50px;top:-2.00px;transform:scale(1.012,1)">25-30<span class=o>l</span> Sómi</div>
<div class="t r" style="right:757.50px;top:-2.00px;transform:scale(1.012,1)">23-937 Faldur</div>
<div class="t r" style="right:679.50px;top:-2.00px">50</div>
<div class="t r" style="right:629.70px;top:-2.00px">40</div>
<div class="t r" style="right:574.30px;top:-2.00px">2<span class=p>.</span>0</div>
<div class="t r" style="right:509.40px;top:-2.00px"><span class=o>l</span><span class=o>l</span>2</div>
<div class="t r" style="right:447.20px;top:-2.00px">9<span class=p>.</span>5</div>
<div class="t r" style="right:382.50px;top:-2.00px">9<span class=p>.</span>5</div>
<div class="t r" style="right:323.40px;top:-2.00px"><span class=o>l</span>0</div>
<div class="t r" style="right:264.10px;top:-2.00px"><span class=o>l</span>0</div>
<div class="t r" style="right:193.60px;top:-2.00px"><span class=o>l</span>9<span class=p>.</span>0</div>
<div class="t r" style="right:134.20px;top:-2.00px">8<span class=p>.</span>5</div>
<div class="t r" style="right:81.30px;top:-2.00px">8<span class=p>.</span>5</div>
<div class="t r k" style="right:9.90px;top:-2.00px">9<span class=o>l</span>.0</div>
</div>
<div class="b" style="top:832.30px;height:22.20px">
<div class="t" style="left:12.00px;top:-2.00px;transform:scale(1.01,1)"><span style="letter-spacing:0px">2</span> Sólvangur</div>
<div class="t r" style="right:958.50px;top:-2.00px;transform:scale(1.012,1)">25-20<span class=o>l</span> Tíukátur</div>
<div class="t r" style="right:757.50px;top:-2.00px;transform:scale(1.012,1)">20-905 Kátur</div>
<div class="t r" style="right:679.50px;top:-2.00px">60</div>
<div class="t r" style="right:629.70px;top:-2.00px">40</div>
<div class="t r" style="right:574.30px;top:-2.00px">5<span class=p>.</span>0</div>
<div class="t r" style="right:509.40px;top:-2.00px"><span class=o>l</span><span class=o>l</span>0</div>
<div class="t r" style="right:447.20px;top:-2.00px">9<span class=p>.</span>5</div>
<div class="t r" style="right:382.50px;top:-2.00px">9<span class=p>.</span>5</div>
<div class="t r" style="right:323.40px;top:-2.00px">9<span class=p>.</span>5</div>
<div class="t r" style="right:264.10px;top:-2.00px"><span class=o>l</span>0</div>
<div class="t r" style="right:193.60px;top:-2.00px"><span class=o>l</span>9<span class=p>.</span>0</div>
<div class="t r" style="right:134.20px;top:-2.00px">8<span class=p>.</span>0</div>
<div class="t r" style="right:81.30px;top:-2.00px">9<span class=p>.</span>5</div>
<div class="t r k" style="right:9.90px;top:-2.00px">9<span class=o>l</span>.0</div>
</div>
<div class="b" style="top:854.50px;height:22.20px">
<div class="t" style="left:12.00px;top:-2.00px;transform:scale(1.01,1)"><span style="letter-spacing:0px">3</span> Skarðaborg</div>
<div class="t r" style="right:958.50px;top:-2.00px;transform:scale(0.965,1)"><i>25-8<span class=o>l</span><span class=o>l</span> Skörðungur</i></div>
<div class="t r" style="right:757.50px;top:-2.00px;transform:scale(1.012,1)">24-960 Hrókur</div>
<div class="t r" style="right:679.50px;top:-2.00px">49</div>
<div class="t r" style="right:629.70px;top:-2.00px">4<span class=o>l</span></div>
<div class="t r" style="right:574.30px;top:-2.00px">2<span class=p>.</span><span class=o>l</span></div>
<div class="t r" style="right:509.40px;top:-2.00px"><span class=o>l</span><span class=o>l</span>3</div>
<div class="t r" style="right:447.20px;top:-2.00px">9<span class=p>.</span>5</div>
<div class="t r" style="right:382.50px;top:-2.00px">9<span class=p>.</span>0</div>
<div class="t r" style="right:323.40px;top:-2.00px"><span class=o>l</span>0</div>
<div class="t r" style="right:264.10px;top:-2.00px">9<span class=p>.</span>5</div>
<div class="t r" style="right:193.60px;top:-2.00px">20<span class=p>.</span>0</div>
<div class="t r" style="right:134.20px;top:-2.00px">7<span class=p>.</span>5</div>
<div class="t r" style="right:81.30px;top:-2.00px">9<span class=p>.</span>0</div>
<div class="t r k" style="right:9.90px;top:-2.00px">90.5</div>
</div>
<div class="b" style="top:876.70px;height:22.20px">
<div class="t" style="left:12.00px;top:-2.00px;transform:scale(1.01,1)"><span style="letter-spacing:0px">4</span> Fellssel</div>
<div class="t r" style="right:958.50px;top:-2.00px;transform:scale(1.012,1)">25-2<span class=o>l</span>6 Biskup</div>
<div class="t r" style="right:757.50px;top:-2.00px;transform:scale(1.012,1)">24-960 Hrókur</div>
<div class="t r" style="right:679.50px;top:-2.00px">47</div>
<div class="t r" style="right:629.70px;top:-2.00px">40</div>
<div class="t r" style="right:574.30px;top:-2.00px">3<span class=p>.</span>7</div>
<div class="t r" style="right:509.40px;top:-2.00px"><span class=o>l</span><span class=o>l</span>2</div>
<div class="t r" style="right:447.20px;top:-2.00px">9<span class=p>.</span>5</div>
<div class="t r" style="right:382.50px;top:-2.00px">9<span class=p>.</span>5</div>
<div class="t r" style="right:323.40px;top:-2.00px"><span class=o>l</span>0</div>
<div class="t r" style="right:264.10px;top:-2.00px">9<span class=p>.</span>5</div>
<div class="t r" style="right:193.60px;top:-2.00px"><span class=o>l</span>9<span class=p>.</span>5</div>
<div class="t r" style="right:134.20px;top:-2.00px">8<span class=p>.</span>0</div>
<div class="t r" style="right:81.30px;top:-2.00px">8<span class=p>.</span>5</div>
<div class="t r k" style="right:9.90px;top:-2.00px">90.5</div>
</div>
<div class="b" style="top:898.90px;height:22.20px">
<div class="t" style="left:12.00px;top:-2.00px;transform:scale(1.01,1)"><span style="letter-spacing:0px">5</span> Ingjaldsstaðir</div>
<div class="t r" style="right:958.50px;top:-2.00px;transform:scale(1.012,1)">25-<span class=o>l</span>55 Goði</div>
<div class="t r" style="right:757.50px;top:-2.00px;transform:scale(1.012,1)">24-943 Glampi</div>
<div class="t r" style="right:679.50px;top:-2.00px">50</div>
<div class="t r" style="right:629.70px;top:-2.00px">38</div>
<div class="t r" style="right:574.30px;top:-2.00px">4<span class=p>.</span>0</div>
<div class="t r" style="right:509.40px;top:-2.00px"><span class=o>l</span>08</div>
<div class="t r" style="right:447.20px;top:-2.00px"><span class=o>l</span>0</div>
<div class="t r" style="right:382.50px;top:-2.00px">9<span class=p>.</span>5</div>
<div class="t r" style="right:323.40px;top:-2.00px">9<span class=p>.</span>5</div>
<div class="t r" style="right:264.10px;top:-2.00px">9<span class=p>.</span>5</div>
<div class="t r" style="right:193.60px;top:-2.00px"><span class=o>l</span>9<span class=p>.</span>5</div>
<div class="t r" style="right:134.20px;top:-2.00px">7<span class=p>.</span>5</div>
<div class="t r" style="right:81.30px;top:-2.00px">9<span class=p>.</span>0</div>
<div class="t r k" style="right:9.90px;top:-2.00px">90.5</div>
</div>
<div class="h" style="top:937.00px">Norður-Þingeyjarsýsla</div>
<div class="b" style="top:965.30px;height:22.20px">
<div class="t" style="left:12.00px;top:-2.00px;transform:scale(1.01,1)"><span class=o>l</span> Sveinungsvík <span class=o>l</span></div>
<div class="t r" style="right:958.50px;top:-2.00px;transform:scale(1.012,1)">25-207 Skakkur</div>
<div class="t r" style="right:757.50px;top:-2.00px;transform:scale(1.012,1)">24-204 Gljái</div>
<div class="t r" style="right:679.50px;top:-2.00px">49</div>
<div class="t r" style="right:629.70px;top:-2.00px">4<span class=o>l</span></div>
<div class="t r" style="right:574.30px;top:-2.00px">4<span class=p>.</span>0</div>
<div class="t r" style="right:509.40px;top:-2.00px"><span class=o>l</span><span class=o>l</span>5</div>
<div class="t r" style="right:447.20px;top:-2.00px">9<span class=p>.</span>0</div>
<div class="t r" style="right:382.50px;top:-2.00px">9<span class=p>.</span>5</div>
<div class="t r" style="right:323.40px;top:-2.00px"><span class=o>l</span>0</div>
<div class="t r" style="right:264.10px;top:-2.00px"><span class=o>l</span>0</div>
<div class="t r" style="right:193.60px;top:-2.00px"><span class=o>l</span>9<span class=p>.</span>0</div>
<div class="t r" style="right:134.20px;top:-2.00px">8<span class=p>.</span>5</div>
<div class="t r" style="right:81.30px;top:-2.00px">8<span class=p>.</span>5</div>
<div class="t r k" style="right:9.90px;top:-2.00px">90.5</div>
</div>
<div class="b" style="top:987.50px;height:22.20px">
<div class="t" style="left:12.00px;top:-2.00px;transform:scale(1.01,1)"><span style="letter-spacing:0px">2</span> Sveinungsvík <span class=o>l</span></div>
<div class="t r" style="right:958.50px;top:-2.00px;transform:scale(1.012,1)">25-209 SvaliSmali</div>
<div class="t r" style="right:757.50px;top:-2.00px;transform:scale(0.93,1)">24-206 ReimarRammi</div>
<div class="t r" style="right:679.50px;top:-2.00px">45</div>
<div class="t r" style="right:629.70px;top:-2.00px">38</div>
<div class="t r" style="right:574.30px;top:-2.00px">2<span class=p>.</span>9</div>
<div class="t r" style="right:509.40px;top:-2.00px"><span class=o>l</span><span class=o>l</span><span class=o>l</span></div>
<div class="t r" style="right:447.20px;top:-2.00px">9<span class=p>.</span>5</div>
<div class="t r" style="right:382.50px;top:-2.00px">9<span class=p>.</span>5</div>
<div class="t r" style="right:323.40px;top:-2.00px">9<span class=p>.</span>5</div>
<div class="t r" style="right:264.10px;top:-2.00px"><span class=o>l</span>0</div>
<div class="t r" style="right:193.60px;top:-2.00px"><span class=o>l</span>9<span class=p>.</span>0</div>
<div class="t r" style="right:134.20px;top:-2.00px">9<span class=p>.</span>0</div>
<div class="t r" style="right:81.30px;top:-2.00px">8<span class=p>.</span>0</div>
<div class="t r k" style="right:9.90px;top:-2.00px">90.5</div>
</div>
<div class="b" style="top:1009.70px;height:22.20px">
<div class="t" style="left:12.00px;top:-2.00px;transform:scale(1.01,1)"><span style="letter-spacing:0px">3</span> Sveinungsvík <span class=o>l</span></div>
<div class="t r" style="right:958.50px;top:-2.00px;transform:scale(1.012,1)">L364</div>
<div class="t r" style="right:757.50px;top:-2.00px;transform:scale(1.012,1)">24-2<span class=o>l</span>0 Fönix</div>
<div class="t r" style="right:679.50px;top:-2.00px">5<span class=o>l</span></div>
<div class="t r" style="right:629.70px;top:-2.00px">38</div>
<div class="t r" style="right:574.30px;top:-2.00px">3<span class=p>.</span>5</div>
<div class="t r" style="right:509.40px;top:-2.00px"><span class=o>l</span><span class=o>l</span>2</div>
<div class="t r" style="right:447.20px;top:-2.00px">9<span class=p>.</span>0</div>
<div class="t r" style="right:382.50px;top:-2.00px">9<span class=p>.</span>5</div>
<div class="t r" style="right:323.40px;top:-2.00px">9<span class=p>.</span>5</div>
<div class="t r" style="right:264.10px;top:-2.00px">9<span class=p>.</span>5</div>
<div class="t r" style="right:193.60px;top:-2.00px"><span class=o>l</span>8<span class=p>.</span>5</div>
<div class="t r" style="right:134.20px;top:-2.00px">9<span class=p>.</span>0</div>
<div class="t r" style="right:81.30px;top:-2.00px">9<span class=p>.</span>0</div>
<div class="t r k" style="right:9.90px;top:-2.00px">90.<span class=n>0</span></div>
</div>
<div class="b" style="top:1031.90px;height:22.20px">
<div class="t" style="left:12.00px;top:-2.00px;transform:scale(1.01,1)"><span style="letter-spacing:0px">4</span> Sveinungsvík <span class=o>l</span></div>
<div class="t r" style="right:958.50px;top:-2.00px;transform:scale(1.012,1)">25-20<span class=o>l</span> Fokker</div>
<div class="t r" style="right:757.50px;top:-2.00px;transform:scale(1.012,1)">22-20<span class=o>l</span> Fleygur</div>
<div class="t r" style="right:679.50px;top:-2.00px">45</div>
<div class="t r" style="right:629.70px;top:-2.00px">40</div>
<div class="t r" style="right:574.30px;top:-2.00px">3<span class=p>.</span>8</div>
<div class="t r" style="right:509.40px;top:-2.00px"><span class=o>l</span>08</div>
<div class="t r" style="right:447.20px;top:-2.00px">9<span class=p>.</span>5</div>
<div class="t r" style="right:382.50px;top:-2.00px">9<span class=p>.</span>0</div>
<div class="t r" style="right:323.40px;top:-2.00px"><span class=o>l</span>0</div>
<div class="t r" style="right:264.10px;top:-2.00px">9<span class=p>.</span>5</div>
<div class="t r" style="right:193.60px;top:-2.00px"><span class=o>l</span>9<span class=p>.</span>5</div>
<div class="t r" style="right:134.20px;top:-2.00px">7<span class=p>.</span>5</div>
<div class="t r" style="right:81.30px;top:-2.00px">8<span class=p>.</span>5</div>
<div class="t r k" style="right:9.90px;top:-2.00px">89.5</div>
</div>
<div class="b" style="top:1054.10px;height:22.20px">
<div class="t" style="left:12.00px;top:-2.00px;transform:scale(1.01,1)"><span style="letter-spacing:0px">5</span> Snartarstaðir II</div>
<div class="t r" style="right:958.50px;top:-2.00px;transform:scale(1.012,1)">25-524</div>
<div class="t r" style="right:757.50px;top:-2.00px;transform:scale(1.012,1)">24-524 Gosi</div>
<div class="t r" style="right:679.50px;top:-2.00px">53</div>
<div class="t r" style="right:629.70px;top:-2.00px">37</div>
<div class="t r" style="right:574.30px;top:-2.00px">2<span class=p>.</span>3</div>
<div class="t r" style="right:509.40px;top:-2.00px"><span class=o>l</span><span class=o>l</span>0</div>
<div class="t r" style="right:447.20px;top:-2.00px">9<span class=p>.</span>0</div>
<div class="t r" style="right:382.50px;top:-2.00px">9<span class=p>.</span>0</div>
<div class="t r" style="right:323.40px;top:-2.00px">9<span class=p>.</span>5</div>
<div class="t r" style="right:264.10px;top:-2.00px">9<span class=p>.</span>5</div>
<div class="t r" style="right:193.60px;top:-2.00px"><span class=o>l</span>9<span class=p>.</span>0</div>
<div class="t r" style="right:134.20px;top:-2.00px">8<span class=p>.</span>5</div>
<div class="t r" style="right:81.30px;top:-2.00px">9<span class=p>.</span>0</div>
<div class="t r k" style="right:9.90px;top:-2.00px">89.5</div>
</div>
<div class="h" style="top:1092.20px">Norður-Múlasýsla</div>
<div class="b" style="top:1120.50px;height:22.20px">
<div class="t" style="left:12.00px;top:-2.00px;transform:scale(1.01,1)"><span class=o>l</span> Klaustursel</div>
<div class="t r" style="right:958.50px;top:-2.00px;transform:scale(1.012,1)">25-236</div>
<div class="t r" style="right:757.50px;top:-2.00px;transform:scale(1.012,1)">24-968 Ósmann</div>
<div class="t r" style="right:679.50px;top:-2.00px">52</div>
<div class="t r" style="right:629.70px;top:-2.00px">35</div>
<div class="t r" style="right:574.30px;top:-2.00px">3<span class=p>.</span>9</div>
<div class="t r" style="right:509.40px;top:-2.00px"><span class=o>l</span>04</div>
<div class="t r" style="right:447.20px;top:-2.00px">9<span class=p>.</span>5</div>
<div class="t r" style="right:382.50px;top:-2.00px">9<span class=p>.</span>0</div>
<div class="t r" style="right:323.40px;top:-2.00px">9<span class=p>.</span>5</div>
<div class="t r" style="right:264.10px;top:-2.00px">9<span class=p>.</span>5</div>
<div class="t r" style="right:193.60px;top:-2.00px"><span class=o>l</span>9<span class=p>.</span>0</div>
<div class="t r" style="right:134.20px;top:-2.00px">9<span class=p>.</span>0</div>
<div class="t r" style="right:81.30px;top:-2.00px">9<span class=p>.</span>0</div>
<div class="t r k" style="right:9.90px;top:-2.00px">90.5</div>
</div>
<div class="b" style="top:1142.70px;height:22.20px">
<div class="t" style="left:12.00px;top:-2.00px;transform:scale(1.01,1)"><span style="letter-spacing:0px">2</span> Hákonarstaðir 3</div>
<div class="t r" style="right:958.50px;top:-2.00px;transform:scale(1.012,1)">25-<span class=o>l</span>73 Hnykill</div>
<div class="t r" style="right:757.50px;top:-2.00px;transform:scale(1.012,1)">24-<span class=o>l</span>62 Óðinn</div>
<div class="t r" style="right:679.50px;top:-2.00px">53</div>
<div class="t r" style="right:629.70px;top:-2.00px">33</div>
<div class="t r" style="right:574.30px;top:-2.00px">3<span class=p>.</span>2</div>
<div class="t r" style="right:509.40px;top:-2.00px"><span class=o>l</span>06</div>
<div class="t r" style="right:447.20px;top:-2.00px">9<span class=p>.</span>5</div>
<div class="t r" style="right:382.50px;top:-2.00px">9<span class=p>.</span>0</div>
<div class="t r" style="right:323.40px;top:-2.00px">9<span class=p>.</span>0</div>
<div class="t r" style="right:264.10px;top:-2.00px">9<span class=p>.</span>5</div>
<div class="t r" style="right:193.60px;top:-2.00px"><span class=o>l</span>9<span class=p>.</span>0</div>
<div class="t r" style="right:134.20px;top:-2.00px">8<span class=p>.</span>5</div>
<div class="t r" style="right:81.30px;top:-2.00px">9<span class=p>.</span>0</div>
<div class="t r k" style="right:9.90px;top:-2.00px">89.5</div>
</div>
<div class="b" style="top:1164.90px;height:22.20px">
<div class="t" style="left:12.00px;top:-2.00px;transform:scale(1.01,1)"><span style="letter-spacing:0px">3</span> Mælivellir</div>
<div class="t r" style="right:958.50px;top:-2.00px;transform:scale(1.012,1)">25-077</div>
<div class="t r" style="right:757.50px;top:-2.00px;transform:scale(1.012,1)">24-969 Alvís</div>
<div class="t r" style="right:679.50px;top:-2.00px">45</div>
<div class="t r" style="right:629.70px;top:-2.00px">37</div>
<div class="t r" style="right:574.30px;top:-2.00px">2<span class=p>.</span>5</div>
<div class="t r" style="right:509.40px;top:-2.00px"><span class=o>l</span>02</div>
<div class="t r" style="right:447.20px;top:-2.00px">9<span class=p>.</span>0</div>
<div class="t r" style="right:382.50px;top:-2.00px">9<span class=p>.</span>0</div>
<div class="t r" style="right:323.40px;top:-2.00px">9<span class=p>.</span>5</div>
<div class="t r" style="right:264.10px;top:-2.00px">9<span class=p>.</span>5</div>
<div class="t r" style="right:193.60px;top:-2.00px"><span class=o>l</span>8<span class=p>.</span>5</div>
<div class="t r" style="right:134.20px;top:-2.00px">9<span class=p>.</span>0</div>
<div class="t r" style="right:81.30px;top:-2.00px">9<span class=p>.</span>0</div>
<div class="t r k" style="right:9.90px;top:-2.00px">89.5</div>
</div>
<div class="b" style="top:1187.10px;height:22.20px">
<div class="t" style="left:12.00px;top:-2.00px;transform:scale(1.01,1)"><span style="letter-spacing:0px">4</span> Rauðholt</div>
<div class="t r" style="right:958.50px;top:-2.00px;transform:scale(1.012,1)">25-702</div>
<div class="t r" style="right:757.50px;top:-2.00px;transform:scale(1.012,1)">24-665 Skúfur</div>
<div class="t r" style="right:679.50px;top:-2.00px">53</div>
<div class="t r" style="right:629.70px;top:-2.00px">36</div>
<div class="t r" style="right:574.30px;top:-2.00px">3<span class=p>.</span>5</div>
<div class="t r" style="right:509.40px;top:-2.00px"><span class=o>l</span>08</div>
<div class="t r" style="right:447.20px;top:-2.00px">9<span class=p>.</span>0</div>
<div class="t r" style="right:382.50px;top:-2.00px">9<span class=p>.</span>0</div>
<div class="t r" style="right:323.40px;top:-2.00px">9<span class=p>.</span>5</div>
<div class="t r" style="right:264.10px;top:-2.00px">9<span class=p>.</span>5</div>
<div class="t r" style="right:193.60px;top:-2.00px"><span class=o>l</span>8<span class=p>.</span>5</div>
<div class="t r" style="right:134.20px;top:-2.00px">9<span class=p>.</span>0</div>
<div class="t r" style="right:81.30px;top:-2.00px">9<span class=p>.</span>0</div>
<div class="t r k" style="right:9.90px;top:-2.00px">89.5</div>
</div>
<div class="b" style="top:1209.30px;height:22.20px">
<div class="t" style="left:12.00px;top:-2.00px;transform:scale(1.01,1)"><span style="letter-spacing:0px">5</span> Hrafnabjörg <span class=o>l</span></div>
<div class="t r" style="right:958.50px;top:-2.00px;transform:scale(1.012,1)">25-27<span class=o>l</span></div>
<div class="t r" style="right:757.50px;top:-2.00px;transform:scale(1.012,1)">24-969 Alvís</div>
<div class="t r" style="right:679.50px;top:-2.00px">46</div>
<div class="t r" style="right:629.70px;top:-2.00px">40</div>
<div class="t r" style="right:574.30px;top:-2.00px">3<span class=p>.</span>5</div>
<div class="t r" style="right:509.40px;top:-2.00px"><span class=o>l</span>05</div>
<div class="t r" style="right:447.20px;top:-2.00px">9<span class=p>.</span>0</div>
<div class="t r" style="right:382.50px;top:-2.00px">9<span class=p>.</span>5</div>
<div class="t r" style="right:323.40px;top:-2.00px"><span class=o>l</span>0</div>
<div class="t r" style="right:264.10px;top:-2.00px">9<span class=p>.</span>5</div>
<div class="t r" style="right:193.60px;top:-2.00px"><span class=o>l</span>8<span class=p>.</span>5</div>
<div class="t r" style="right:134.20px;top:-2.00px">8<span class=p>.</span>0</div>
<div class="t r" style="right:81.30px;top:-2.00px">9<span class=p>.</span>0</div>
<div class="t r k" style="right:9.90px;top:-2.00px">89.0</div>
</div>
<div class="h" style="top:1247.40px">Suður-Múlasýsla</div>
<div class="b" style="top:1275.70px;height:22.20px">
<div class="t" style="left:12.00px;top:-2.00px;transform:scale(1.01,1)"><span class=o>l</span> Eiríksstaðir</div>
<div class="t r" style="right:958.50px;top:-2.00px;transform:scale(1.012,1)">25-203</div>
<div class="t r" style="right:757.50px;top:-2.00px;transform:scale(1.012,1)">24-969 Alvís</div>
<div class="t r" style="right:679.50px;top:-2.00px">50</div>
<div class="t r" style="right:629.70px;top:-2.00px">38</div>
<div class="t r" style="right:574.30px;top:-2.00px">3<span class=p>.</span>4</div>
<div class="t r" style="right:509.40px;top:-2.00px"><span class=o>l</span>07</div>
<div class="t r" style="right:447.20px;top:-2.00px">9<span class=p>.</span>5</div>
<div class="t r" style="right:382.50px;top:-2.00px">9<span class=p>.</span>5</div>
<div class="t r" style="right:323.40px;top:-2.00px"><span class=o>l</span>0</div>
<div class="t r" style="right:264.10px;top:-2.00px">9<span class=p>.</span>5</div>
<div class="t r" style="right:193.60px;top:-2.00px"><span class=o>l</span>9<span class=p>.</span>0</div>
<div class="t r" style="right:134.20px;top:-2.00px">8<span class=p>.</span>5</div>
<div class="t r" style="right:81.30px;top:-2.00px">9<span class=p>.</span>0</div>
<div class="t r k" style="right:9.90px;top:-2.00px">9<span class=o>l</span>.0</div>
</div>
<div class="b" style="top:1297.90px;height:22.20px">
<div class="t" style="left:12.00px;top:-2.00px;transform:scale(1.01,1)"><span style="letter-spacing:0px">2</span> Hafranes</div>
<div class="t r" style="right:958.50px;top:-2.00px;transform:scale(1.012,1)">25-066 Valli</div>
<div class="t r" style="right:757.50px;top:-2.00px;transform:scale(1.012,1)">24-057 Vöndur</div>
<div class="t r" style="right:679.50px;top:-2.00px">42</div>
<div class="t r" style="right:629.70px;top:-2.00px">38</div>
<div class="t r" style="right:574.30px;top:-2.00px">2<span class=p>.</span><span class=o>l</span></div>
<div class="t r" style="right:509.40px;top:-2.00px"><span class=o>l</span>06</div>
<div class="t r" style="right:447.20px;top:-2.00px">9<span class=p>.</span>5</div>
<div class="t r" style="right:382.50px;top:-2.00px">9<span class=p>.</span>0</div>
<div class="t r" style="right:323.40px;top:-2.00px"><span class=o>l</span>0</div>
<div class="t r" style="right:264.10px;top:-2.00px">9<span class=p>.</span>5</div>
<div class="t r" style="right:193.60px;top:-2.00px"><span class=o>l</span>8<span class=p>.</span>5</div>
<div class="t r" style="right:134.20px;top:-2.00px">9<span class=p>.</span>0</div>
<div class="t r" style="right:81.30px;top:-2.00px">9<span class=p>.</span>0</div>
<div class="t r k" style="right:9.90px;top:-2.00px">90.5</div>
</div>
<div class="b" style="top:1320.10px;height:22.20px">
<div class="t" style="left:12.00px;top:-2.00px;transform:scale(1.01,1)"><span style="letter-spacing:0px">3</span> Eiríksstaðir</div>
<div class="t r" style="right:958.50px;top:-2.00px;transform:scale(1.012,1)">25-206</div>
<div class="t r" style="right:757.50px;top:-2.00px;transform:scale(1.012,1)">24-969 Alvís</div>
<div class="t r" style="right:679.50px;top:-2.00px">50</div>
<div class="t r" style="right:629.70px;top:-2.00px">39</div>
<div class="t r" style="right:574.30px;top:-2.00px">3<span class=p>.</span>9</div>
<div class="t r" style="right:509.40px;top:-2.00px"><span class=o>l</span>07</div>
<div class="t r" style="right:447.20px;top:-2.00px">9<span class=p>.</span>5</div>
<div class="t r" style="right:382.50px;top:-2.00px">9<span class=p>.</span>5</div>
<div class="t r" style="right:323.40px;top:-2.00px"><span class=o>l</span>0</div>
<div class="t r" style="right:264.10px;top:-2.00px">9<span class=p>.</span>5</div>
<div class="t r" style="right:193.60px;top:-2.00px"><span class=o>l</span>9<span class=p>.</span>0</div>
<div class="t r" style="right:134.20px;top:-2.00px">8<span class=p>.</span>0</div>
<div class="t r" style="right:81.30px;top:-2.00px">9<span class=p>.</span>0</div>
<div class="t r k" style="right:9.90px;top:-2.00px">90.0</div>
</div>
<div class="b" style="top:1342.30px;height:22.20px">
<div class="t" style="left:12.00px;top:-2.00px;transform:scale(1.01,1)"><span style="letter-spacing:0px">4</span> Hjartarstaðir <span class=o>l</span></div>
<div class="t r" style="right:958.50px;top:-2.00px;transform:scale(1.012,1)">25-003 Garpur</div>
<div class="t r" style="right:757.50px;top:-2.00px;transform:scale(1.012,1)">22-004 Galdur</div>
<div class="t r" style="right:679.50px;top:-2.00px">53</div>
<div class="t r" style="right:629.70px;top:-2.00px">42</div>
<div class="t r" style="right:574.30px;top:-2.00px">5<span class=p>.</span>8</div>
<div class="t r" style="right:509.40px;top:-2.00px"><span class=o>l</span>06</div>
<div class="t r" style="right:447.20px;top:-2.00px">9<span class=p>.</span>0</div>
<div class="t r" style="right:382.50px;top:-2.00px">9<span class=p>.</span>0</div>
<div class="t r" style="right:323.40px;top:-2.00px"><span class=o>l</span>0</div>
<div class="t r" style="right:264.10px;top:-2.00px">9<span class=p>.</span>5</div>
<div class="t r" style="right:193.60px;top:-2.00px"><span class=o>l</span>9<span class=p>.</span>0</div>
<div class="t r" style="right:134.20px;top:-2.00px">8<span class=p>.</span>5</div>
<div class="t r" style="right:81.30px;top:-2.00px">9<span class=p>.</span>0</div>
<div class="t r k" style="right:9.90px;top:-2.00px">90.0</div>
</div>
<div class="b" style="top:1364.50px;height:22.20px">
<div class="t" style="left:12.00px;top:-2.00px;transform:scale(1.01,1)"><span style="letter-spacing:0px">5</span> Hjartarstaðir <span class=o>l</span></div>
<div class="t r" style="right:958.50px;top:-2.00px;transform:scale(1.012,1)">25-002 Funi</div>
<div class="t r" style="right:757.50px;top:-2.00px;transform:scale(1.012,1)">23-937 Faldur</div>
<div class="t r" style="right:679.50px;top:-2.00px">63</div>
<div class="t r" style="right:629.70px;top:-2.00px">40</div>
<div class="t r" style="right:574.30px;top:-2.00px">4<span class=p>.</span>4</div>
<div class="t r" style="right:509.40px;top:-2.00px"><span class=o>l</span><span class=o>l</span>0</div>
<div class="t r" style="right:447.20px;top:-2.00px">9<span class=p>.</span>5</div>
<div class="t r" style="right:382.50px;top:-2.00px">9<span class=p>.</span>5</div>
<div class="t r" style="right:323.40px;top:-2.00px"><span class=o>l</span>0</div>
<div class="t r" style="right:264.10px;top:-2.00px">9<span class=p>.</span>0</div>
<div class="t r" style="right:193.60px;top:-2.00px"><span class=o>l</span>9<span class=p>.</span>5</div>
<div class="t r" style="right:134.20px;top:-2.00px">8<span class=p>.</span>0</div>
<div class="t r" style="right:81.30px;top:-2.00px">9<span class=p>.</span>0</div>
<div class="t r k" style="right:9.90px;top:-2.00px">89.5</div>
</div>
</body></html>
